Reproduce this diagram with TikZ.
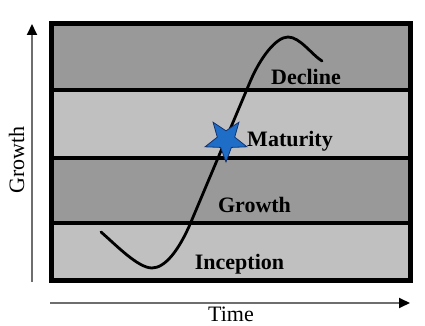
\documentclass[tikz,border=0pt]{standalone}
\usepackage{fontspec}
\setmainfont{Liberation Serif}
\usetikzlibrary{arrows.meta,shapes.geometric}
\definecolor{bandDark}{RGB}{153,153,153}
\definecolor{bandLight}{RGB}{192,192,192}
\definecolor{starFill}{RGB}{30,110,200}
\definecolor{starEdge}{RGB}{20,50,110}
\definecolor{axisGray}{RGB}{110,110,110}
\begin{document}
\begin{tikzpicture}[x=1pt,y=1pt,
  bandlabel/.style={font=\fontsize{22}{26}\selectfont\bfseries, inner sep=0, anchor=base},
  axislabel/.style={font=\fontsize{22}{26}\selectfont, inner sep=0, anchor=base},
  axisline/.style={line width=1.8pt, draw=axisGray, -{Triangle[length=11pt,width=10pt,color=black]}},
  divider/.style={line width=4pt, draw=black},
  lifecurve/.style={line width=2.8pt, line cap=round, draw=black}]
\useasboundingbox (0,0) rectangle (425,326);
% bands
\fill[bandDark]  (51,236) rectangle (410.5,302.5);
\fill[bandLight] (51,168) rectangle (410.5,236);
\fill[bandDark]  (51,103) rectangle (410.5,168);
\fill[bandLight] (51,45)  rectangle (410.5,103);
% dividers
\coordinate (d1L) at (51,236);   \coordinate (d1R) at (410.5,236);
\coordinate (d2L) at (51,168);   \coordinate (d2R) at (410.5,168);
\coordinate (d3L) at (51,103);   \coordinate (d3R) at (410.5,103);
\draw[divider] (d1L) -- (d1R);
\draw[divider] (d2L) -- (d2R);
\draw[divider] (d3L) -- (d3R);
% frame
\coordinate (boxSW) at (51,45);
\coordinate (boxNE) at (410.5,302.5);
\draw[line width=5pt] (boxSW) rectangle (boxNE);
% curve
\draw[lifecurve] (101,94) .. controls (116,81) and (138,58) .. (152,58)
  .. controls (165,58) and (179,75.6) .. (191,104) -- (250,244)
  .. controls (260,268) and (276,289) .. (288,289)
  .. controls (300,289) and (312,271) .. (322,265);
% axes
\coordinate (yFrom) at (32,44);  \coordinate (yTo) at (32,302);
\coordinate (xFrom) at (50,23);  \coordinate (xTo) at (410,23);
\draw[axisline] (yFrom) -- (yTo);
\draw[axisline] (xFrom) -- (xTo);
% labels
\node[bandlabel] (decline) at (306,241) {Decline};
\node[bandlabel] (maturity) at (290,179) {Maturity};
\node[bandlabel] (growth) at (254.5,113) {Growth};
\node[bandlabel] (inception) at (239.5,56) {Inception};
\node[axislabel, rotate=90] (ylab) at (24,166) {Growth};
\node[axislabel] (xlab) at (231,4) {Time};
% star
\node[star, star points=5, star point ratio=2.4, minimum size=44pt, inner sep=0pt,
      shape border rotate=180, fill=starFill, draw=starEdge, line width=0.8pt] (marker) at (226,186) {};
\end{tikzpicture}
\end{document}
